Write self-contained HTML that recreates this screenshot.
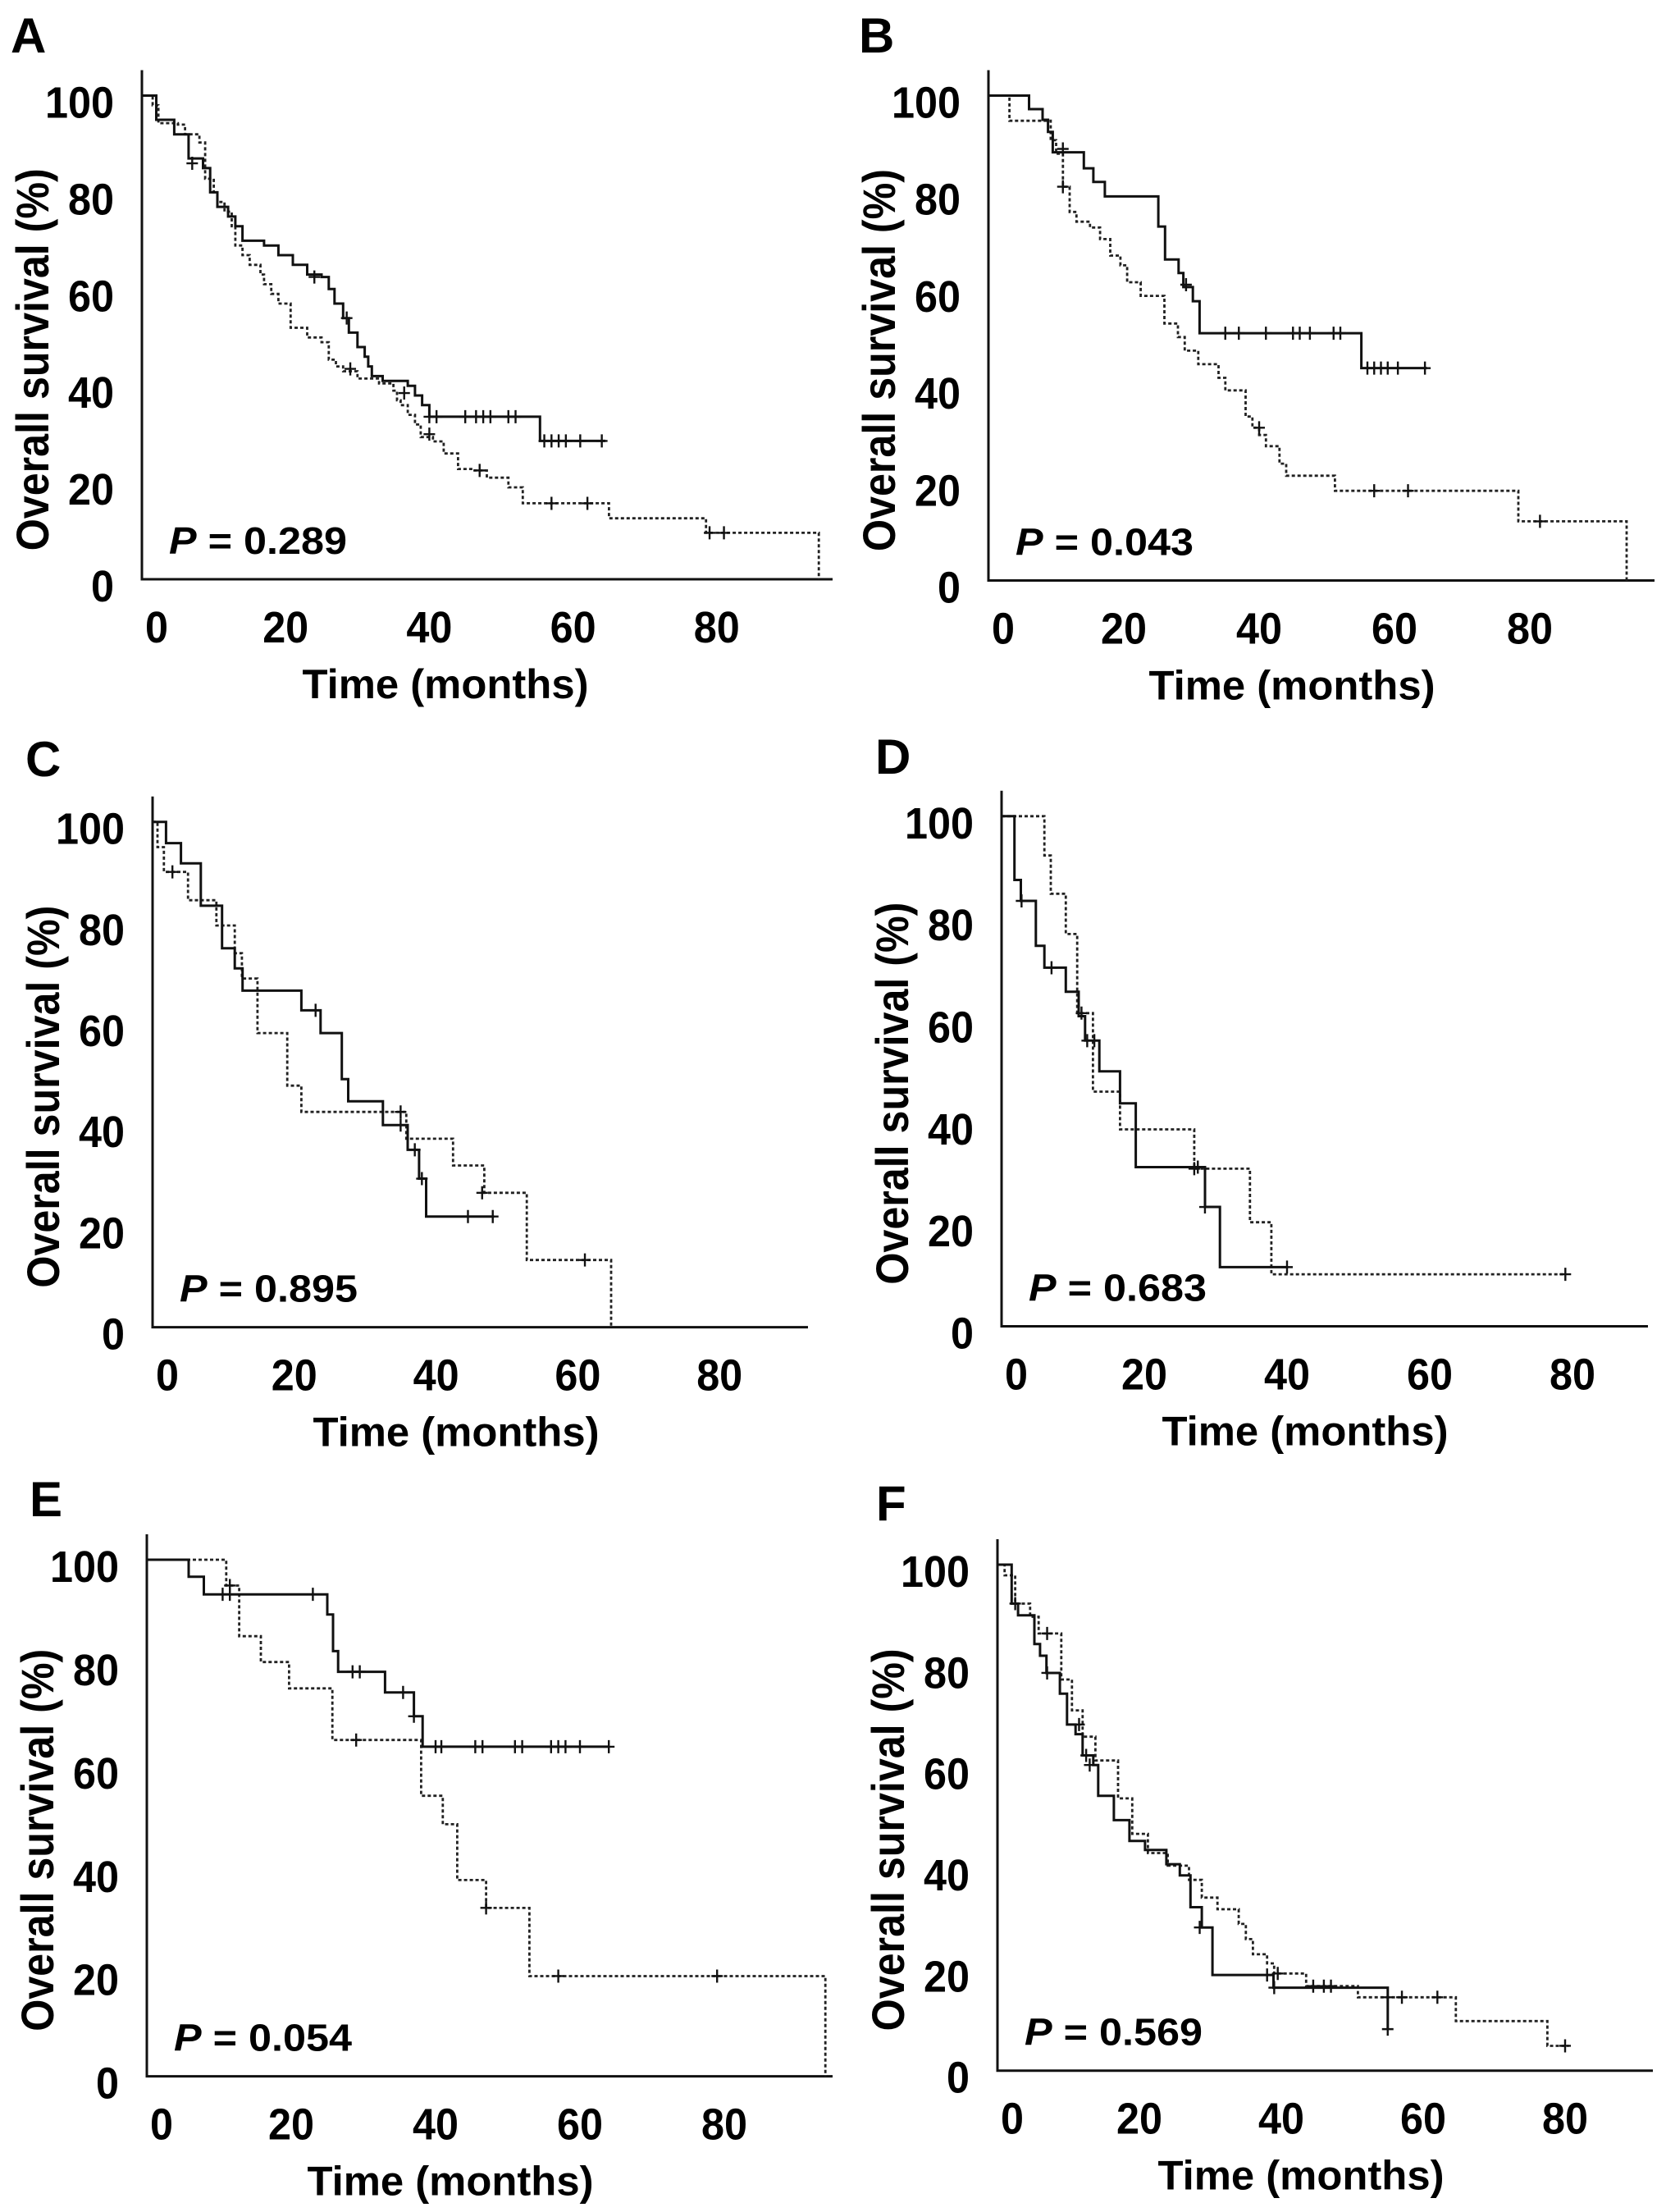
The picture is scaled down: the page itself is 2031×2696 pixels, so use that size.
<!DOCTYPE html>
<html><head><meta charset="utf-8"><style>
html,body{margin:0;padding:0;background:#fff;}
svg{display:block;}
text{font-family:"Liberation Sans",Arial,sans-serif;font-weight:bold;fill:#000;}
</style></head><body>
<svg id="fig" width="2031" height="2696" viewBox="0 0 2031 2696" xmlns="http://www.w3.org/2000/svg"></svg>
<script>
const yTicks = [0,20,40,60,80,100];
const xTicks = [0,20,40,60,80];
const panelLetters = ["A","B","C","D","E","F"];
const pValues = ["0.289","0.043","0.895","0.683","0.054","0.569"];

// Panel A
const aSolidT = [0,2,4.5,6.5,8.5,9.5,10.5,12,13,14,17,19,21,23,25,26,26.8,28,28.8,30,31,31.5,32,33.5,37,38,39,40,55.4,64.5];
const aSolidS = [100,95,92,87,85,80,77,75,73,70,69,67,65,63,62.5,60,57,54,51,48,46,44,42,41,40,38,36,33.6,28.6,28.6];
const aSolidCT = [7,24,28.5,36.5,40,41,45,46.5,47.5,48.5,51,52,56,57,58,59,61,64];
const aSolidCS = [86,62.5,54,38.5,33.6,33.6,33.6,33.6,33.6,33.6,33.6,33.6,28.6,28.6,28.6,28.6,28.6,28.6];
const aDashT = [0,1.5,2.3,5,6,8,8.8,10,10.5,11.5,12.5,13,14,15,16.5,17,18,19,20.7,23,25,26,27,28,30,33,35,35.5,36,37,38,38.8,40.5,42,44,46,48,51,53,65,78.5,94.2,94.2];
const aDashS = [100,98,94.3,94,92,90.3,82.8,80,78,76,73,69,67,65,63,61,59,57,52,50,49,45.4,44,43,41.5,40.5,39,37,36,34,32,29.4,28.5,26,22.8,22.5,21,19,15.7,12.6,9.6,9.6,0];
const aDashCT = [29,40,47,57,62,79,81];
const aDashCS = [43.5,30,22.5,15.7,15.7,9.6,9.6];

// Panel B
const bSolidT = [0,6,8,8.8,9.5,14.1,15.5,17.2,25.1,26.1,28.1,28.8,30.2,31.2,55.1,64.8];
const bSolidS = [100,97.2,95,92.5,88.3,85,82.2,79.2,73,66.2,63.4,60.5,57.6,51,43.8,43.8];
const bSolidCT = [11,29.2,35,37,41,45,46,47.5,51,52,56,57,58,59,60.5,64.5];
const bSolidCS = [89,61,51,51,51,51,51,51,51,51,43.8,43.8,43.8,43.8,43.8,43.8];
const bDashT = [0,3.1,9.2,10,11,12,13,15,16.5,18,19.5,20.5,22.5,26,28,29,31,34,35,38,39,40,41,43,44,51.2,78.3,94.3,94.3];
const bDashS = [100,94.8,90.8,88,81.2,76,74,72.8,70.4,67,65,61.5,58.7,53,50.2,47.4,44.6,41.8,39.2,33.8,31.5,30,27.7,24.1,21.6,18.5,12.2,12.2,0];
const bDashCT = [11,40,57,62,81.5];
const bDashCS = [81.2,31.5,18.5,18.5,12.2];

// Panel C
const cSolidT = [0,1.9,4,6.8,9.8,11.6,12.7,21,23.7,26.7,27.6,32.5,36,37.6,38.6,48.2];
const cSolidS = [100,95.8,91.8,83.4,75,71,66.6,62.7,58.2,49.1,44.7,40,35.1,29.4,21.9,21.9];
const cSolidCT = [23,35,37,38,44.5,48];
const cSolidCS = [62.7,40,35.1,29.4,21.9,21.9];
const cDashT = [0,0.7,1.6,5,9,11.6,12.6,14.8,19,21,35.8,42.4,46.8,52.8,64.7,64.7];
const cDashS = [100,95,90.1,84.5,79.5,74,69,58.2,47.8,42.6,37.3,32,26.6,13.3,13.3,0];
const cDashCT = [2.8,35,46.5,61];
const cDashCS = [90.1,42.6,26.6,13.3];

// Panel D
const dSolidT = [0,1.8,2.7,4.8,6,9,10.8,11.7,13.7,16.6,18.8,28.5,30.6,40];
const dSolidS = [100,87.5,83.4,74.6,70.3,65.6,60.8,56,50,43.7,31.2,23.4,11.6,11.6];
const dSolidCT = [2.8,7,12,13,27.5,28.5,40];
const dSolidCS = [83.4,70.3,56,56,31.2,23.4,11.6];
const dDashT = [0,6,6.9,9,10.6,12.8,16.6,27,34.8,37.8,79];
const dDashS = [100,92.3,84.8,76.9,61.4,46,38.6,30.9,20.4,10.2,10.2];
const dDashCT = [11.2,27,79];
const dDashCS = [61.4,30.9,10.2];

// Panel E
const eSolidT = [0,5.8,7.9,25,25.8,26.5,33,37,38.2,64];
const eSolidS = [100,96.7,93.3,89.4,82.3,78.3,74.3,69.7,63.8,63.8];
const eSolidCT = [10.5,11.5,23,28.5,29.5,35.5,37,40,40.8,45.5,46.5,51,52,56,57,58,60,64];
const eSolidCS = [93.3,93.3,93.3,78.3,78.3,74.3,69.7,63.8,63.8,63.8,63.8,63.8,63.8,63.8,63.8,63.8,63.8,63.8];
const eDashT = [0,11,12.8,15.8,19.7,25.7,38,41,43,47,53,94,94];
const eDashS = [100,95,85.2,80.2,75.1,65.1,54.3,48.8,38,32.6,19.4,19.4,0];
const eDashCT = [11.5,29,47,57,79];
const eDashCS = [95,65.1,32.6,19.4,19.4];

// Panel F
const fSolidT = [0,2,2.9,5.2,6,6.9,8.8,9.8,11,12,13.5,14.2,16.4,18.6,20.8,23.8,25.7,27.2,28.8,30.3,38.9,55,55];
const fSolidS = [100,92.3,90,84.3,82,78.6,74.5,68.4,66.5,62.3,60.4,54.3,49.5,45.4,43.6,40.8,38.6,32.3,28.3,18.9,16.4,16.4,8.2];
const fSolidCT = [2.5,7,11.5,12.5,13,28.5,38,39,55];
const fSolidCS = [92.3,78.6,68.4,62.3,60.4,28.3,18.9,16.4,8.2];
const fDashT = [0,1,2.5,4.6,5.8,9,10.5,12,13.8,17,19,21.2,24,27,28.8,31,34,35,36,38,39,43.5,50.8,64.6,77.5,80.5];
const fDashS = [100,97.9,92.3,89.7,86.4,77.3,71.2,66,61.3,53.8,46.8,43,40.5,37.7,34.2,31.9,29,26,23,21.2,19.2,16.7,14.5,9.8,4.9,4.9];
const fDashCT = [7,39.5,44.5,46,47,55,57,62,80];
const fDashCS = [86.4,19.2,16.7,16.7,16.7,14.5,14.5,14.5,4.9];

const series = [
  [aSolidT,aSolidS,aSolidCT,aSolidCS,aDashT,aDashS,aDashCT,aDashCS],
  [bSolidT,bSolidS,bSolidCT,bSolidCS,bDashT,bDashS,bDashCT,bDashCS],
  [cSolidT,cSolidS,cSolidCT,cSolidCS,cDashT,cDashS,cDashCT,cDashCS],
  [dSolidT,dSolidS,dSolidCT,dSolidCS,dDashT,dDashS,dDashCT,dDashCS],
  [eSolidT,eSolidS,eSolidCT,eSolidCS,eDashT,eDashS,eDashCT,eDashCS],
  [fSolidT,fSolidS,fSolidCT,fSolidCS,fDashT,fDashS,fDashCT,fDashCS]
];

// layout (pixel geometry, not data)
const layout = [
  {x0:173,px:8.76,y100:116.5,y0:706,xr:1015,lx:13,ly:64},
  {x0:1205,px:8.25,y100:116.5,y0:707.5,xr:2017,lx:1047,ly:64},
  {x0:186,px:8.64,y100:1001.7,y0:1617.6,xr:985,lx:31,ly:946},
  {x0:1221,px:8.70,y100:994.8,y0:1616.5,xr:2009,lx:1067,ly:943},
  {x0:179,px:8.80,y100:1901,y0:2530.6,xr:1015,lx:36,ly:1848},
  {x0:1216,px:8.65,y100:1907,y0:2523.7,xr:2015,lx:1068,ly:1853}
];

const NS = "http://www.w3.org/2000/svg";
const svg = document.getElementById('fig');
function mk(tag, attrs, parent){
  const e = document.createElementNS(NS, tag);
  for (const k in attrs) e.setAttribute(k, attrs[k]);
  parent.appendChild(e);
  return e;
}
function stepPath(T,S,xf,yf){
  let d = "M"+xf(T[0]).toFixed(1)+","+yf(S[0]).toFixed(1);
  for (let i=1;i<T.length;i++){
    d += " H"+xf(T[i]).toFixed(1)+" V"+yf(S[i]).toFixed(1);
  }
  return d;
}

layout.forEach((L,pi)=>{
  const xf = t => L.x0 + t*L.px;
  const yf = s => L.y0 - s*(L.y0-L.y100)/100;
  const g = mk('g',{},svg);
  
  

  const letter = mk('text',{x:L.lx,y:L.ly,'font-size':60},g);
  
  
  letter.textContent = panelLetters[pi];

  const axes = mk('path',{d:"M"+L.x0+","+(L.y100-31)+" V"+L.y0+" H"+L.xr,stroke:'#111','stroke-width':3,fill:'none'},g);
  
  

  yTicks.forEach(v=>{
    const s = String(v);
    const t = mk('text',{x:L.x0-34,y:yf(v)+27,'font-size':54,'text-anchor':'end',textLength:s.length*28,lengthAdjust:'spacingAndGlyphs'},g);
    
    
    t.textContent = s;
  });
  xTicks.forEach(v=>{
    const s = String(v);
    const cx = v===0 ? xf(0)+18 : xf(v);
    const t = mk('text',{x:cx,y:L.y0+77,'font-size':54,'text-anchor':'middle',textLength:s.length*28,lengthAdjust:'spacingAndGlyphs'},g);
    
    
    t.textContent = s;
  });
  const xt = mk('text',{x:L.x0+370,y:L.y0+145,'font-size':50,'text-anchor':'middle',textLength:349,lengthAdjust:'spacingAndGlyphs'},g);
  
  
  xt.textContent = 'Time (months)';
  const ycx = L.x0-134, ycy = (L.y100+L.y0)/2+27;
  const yt = mk('text',{x:ycx,y:ycy+20,'font-size':56,'text-anchor':'middle',textLength:466,lengthAdjust:'spacingAndGlyphs',transform:'rotate(-90 '+ycx+' '+ycy+')'},g);
  
  
  yt.textContent = 'Overall survival (%)';

  const pt = mk('text',{x:L.x0+33,y:L.y0-31,'font-size':46,textLength:217,lengthAdjust:'spacingAndGlyphs'},g);
  
  
  const ti = mk('tspan',{'font-style':'italic'},pt);
  ti.textContent = 'P';
  const tr = mk('tspan',{},pt);
  tr.textContent = ' = '+pValues[pi];

  const S = series[pi];
  const dashed = mk('path',{d:stepPath(S[4],S[5],xf,yf),stroke:'#222','stroke-width':2.8,'stroke-dasharray':'4 3',fill:'none'},g);
  
  
  const solid = mk('path',{d:stepPath(S[0],S[1],xf,yf),stroke:'#111','stroke-width':3,fill:'none'},g);
  
  
  [[S[2],S[3],'solid-censor-mark'],[S[6],S[7],'dashed-censor-mark']].forEach(([CT,CS,nm])=>{
    CT.forEach((t,i)=>{
      const x = xf(t), y = yf(CS[i]);
      const c = mk('path',{d:"M"+(x-7)+","+y+" H"+(x+7)+" M"+x+","+(y-8)+" V"+(y+8),stroke:'#111','stroke-width':2.4,fill:'none'},g);
      
      
    });
  });
});
</script>
</body></html>
